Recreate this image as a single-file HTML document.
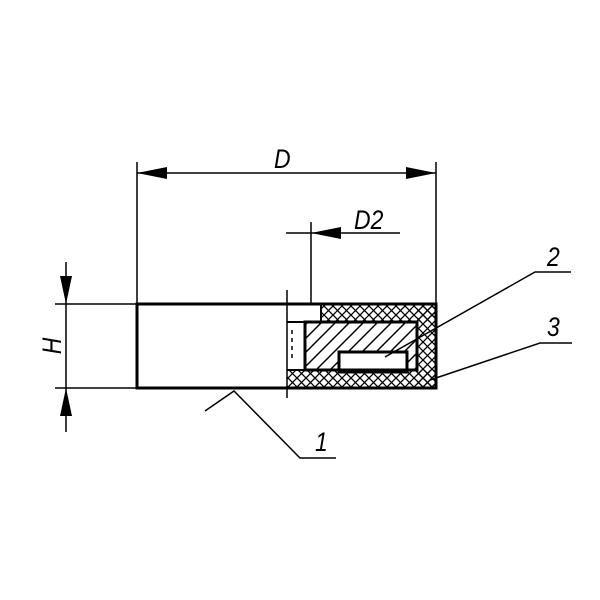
<!DOCTYPE html>
<html><head><style>body{margin:0;background:#fff}svg{display:block}</style></head><body>
<svg width="600" height="600" viewBox="0 0 600 600" xmlns="http://www.w3.org/2000/svg">
<defs>
<pattern id="x" width="9" height="9" patternUnits="userSpaceOnUse">
<path d="M0 0L9 9M9 0L0 9" stroke="#000" stroke-width="1.3"/></pattern>
<pattern id="h" width="14" height="14" patternUnits="userSpaceOnUse">
<path d="M0 14L14 0M-4 4L4 -4M10 18L18 10" stroke="#000" stroke-width="1.5"/></pattern>
</defs>
<g stroke="#000" fill="none">
<rect x="322" y="305" width="114" height="17" fill="url(#x)" stroke="none"/>
<rect x="417" y="305" width="19" height="83" fill="url(#x)" stroke="none"/>
<rect x="287" y="370" width="149" height="18" fill="url(#x)" stroke="none"/>
<rect x="305" y="322" width="112" height="48" fill="url(#h)" stroke="none"/>
<rect x="339" y="352" width="68" height="20" fill="#fff" stroke="#000" stroke-width="3"/>
<rect x="137" y="304" width="299" height="84" stroke-width="3"/>
<rect x="305" y="322" width="112" height="48" stroke-width="3"/>
<line x1="287" y1="322" x2="305" y2="322" stroke-width="2"/>
<line x1="287" y1="370" x2="305" y2="370" stroke-width="2"/>
<line x1="321" y1="305" x2="321" y2="322" stroke-width="2"/>
<line x1="287" y1="290" x2="287" y2="398" stroke-width="1.5"/>
<line x1="292" y1="330" x2="292" y2="360" stroke-width="1.5" stroke-dasharray="4 4"/>
<line x1="137" y1="162" x2="137" y2="304" stroke-width="1.5"/>
<line x1="436" y1="162" x2="436" y2="304" stroke-width="1.5"/>
<line x1="137" y1="173" x2="436" y2="173" stroke-width="1.5"/>
<line x1="311" y1="222" x2="311" y2="305" stroke-width="1.5"/>
<line x1="286" y1="233" x2="400" y2="233" stroke-width="1.5"/>
<line x1="55" y1="304" x2="137" y2="304" stroke-width="1.5"/>
<line x1="55" y1="388" x2="137" y2="388" stroke-width="1.5"/>
<line x1="66" y1="262" x2="66" y2="432" stroke-width="1.5"/>
<polyline points="205,411 234,391 300,458 336,458" stroke-width="1.5"/>
<polyline points="385,357 535,272 571,272" stroke-width="1.5"/>
<polyline points="430,380 540,343 572,343" stroke-width="1.5"/>
</g>
<g fill="#000">
<polygon points="137,173 167,167 167,179"/>
<polygon points="436,173 406,167 406,179"/>
<polygon points="311,233 341,227 341,239"/>
<polygon points="66,304 60,276 72,276"/>
<polygon points="66,388 60,416 72,416"/>
</g>
<g font-family="Liberation Sans, sans-serif" font-style="italic" font-size="27">
<text transform="translate(274,168) scale(0.85,1)">D</text>
<text transform="translate(354,229) scale(0.85,1)">D2</text>
<text transform="translate(547,266) scale(0.85,1)">2</text>
<text transform="translate(547,336) scale(0.85,1)">3</text>
<text transform="translate(315,451) scale(0.85,1)">1</text>
<text transform="translate(61,346) rotate(-90) scale(0.85,1)" text-anchor="middle">H</text>
</g>
</svg>
</body></html>
